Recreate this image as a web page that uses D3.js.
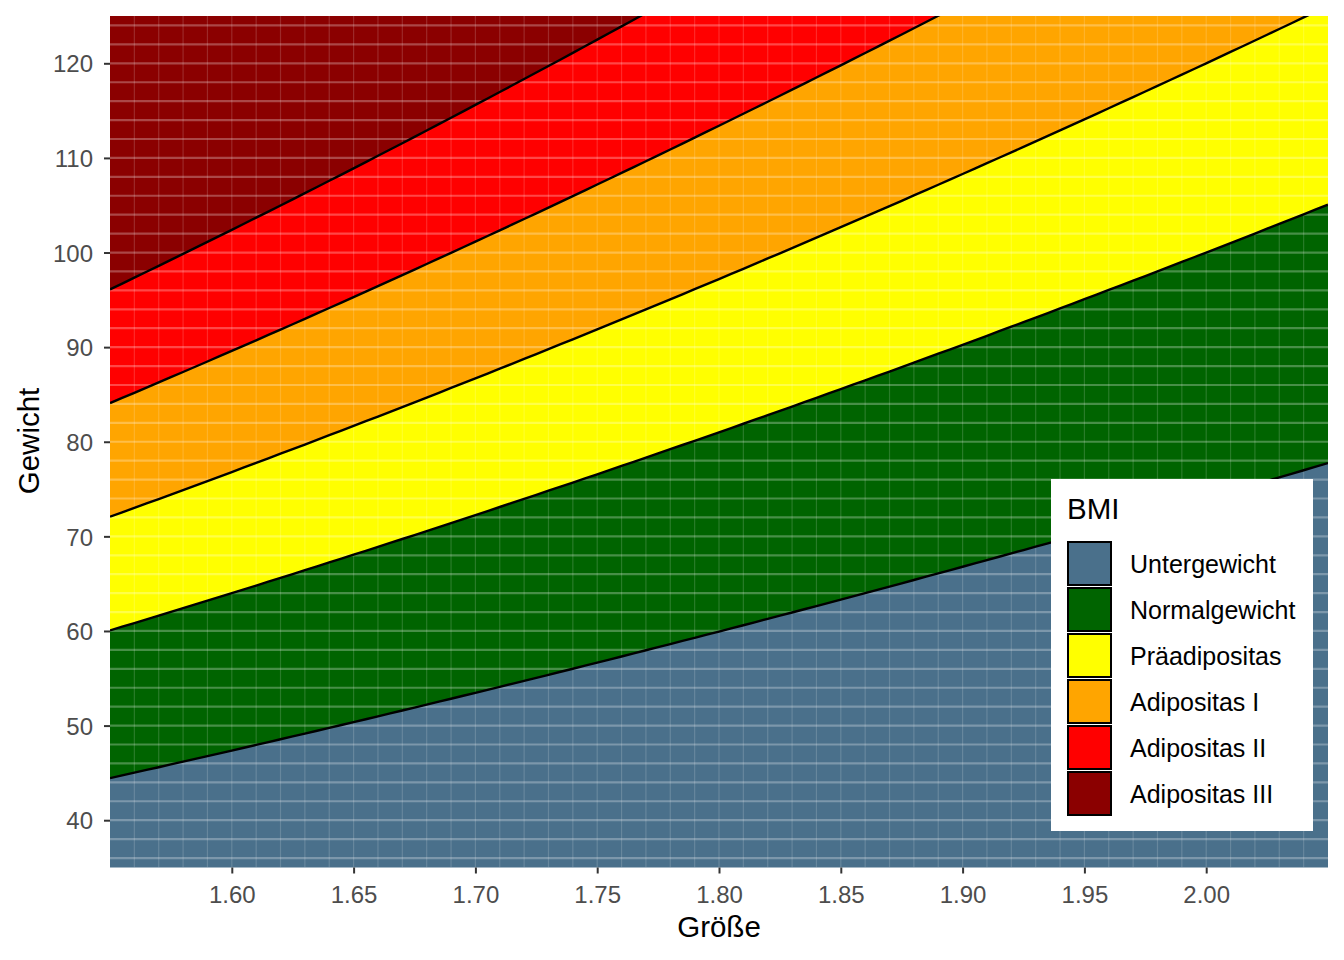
<!DOCTYPE html>
<html><head><meta charset="utf-8">
<script src="https://cdn.jsdelivr.net/npm/d3@7"></script>
<style>body{margin:0;background:#fff}svg{display:block}text{font-family:"Liberation Sans",Arial,sans-serif}</style>
</head><body><svg id="c" width="1344" height="960"></svg>
<script>
// Data
const categories = ["Untergewicht","Normalgewicht","Präadipositas","Adipositas I","Adipositas II","Adipositas III"];
const colors = ["#4A708B","#006400","#FFFF00","#FFA500","#FF0000","#8B0000"];
const thresholds = [18.5, 25, 30, 35, 40]; // BMI class boundaries
const heights = d3.range(0, 101).map(i => 1.55 + i * 0.005); // sample heights along x
const xTicks = [1.60,1.65,1.70,1.75,1.80,1.85,1.90,1.95,2.00];
const yTicks = [40,50,60,70,80,90,100,110,120];
const xDomain = [1.55, 2.05], yDomain = [35, 125];

const svg = d3.select("#c");
const L = 110, R = 1328, T = 16, B = 867.5;
const x = d3.scaleLinear().domain(xDomain).range([L, R]);
const y = d3.scaleLinear().domain(yDomain).range([B, T]);

svg.append("defs").append("clipPath").attr("id","clip").append("rect")
  .attr("x",L).attr("y",T).attr("width",R-L).attr("height",B-T);
const g = svg.append("g").attr("clip-path","url(#clip)");

const lower = i => h => i === 0 ? yDomain[0] - 10 : thresholds[i-1] * h * h;
const upper = i => h => i === categories.length - 1 ? yDomain[1] + 10 : thresholds[i] * h * h;
categories.forEach((c, i) => {
  const area = d3.area().x(h => x(h)).y0(h => y(lower(i)(h))).y1(h => y(upper(i)(h)));
  g.append("path").attr("d", area(heights)).attr("fill", colors[i]);
});

// grid overlay
d3.range(36, 125, 2).forEach(v => {
  g.append("line").attr("x1",L).attr("x2",R).attr("y1",y(v)).attr("y2",y(v))
   .attr("stroke","#fff").attr("stroke-opacity",0.28).attr("stroke-width",2.2);
});
d3.range(1, 50).map(i => 1.55 + i*0.01).forEach(v => {
  g.append("line").attr("y1",T).attr("y2",B).attr("x1",x(v)).attr("x2",x(v))
   .attr("stroke","#fff").attr("stroke-opacity",0.16).attr("stroke-width",1.2);
});

// boundary lines
thresholds.forEach(t => {
  const line = d3.line().x(h => x(h)).y(h => y(t*h*h));
  g.append("path").attr("d", line(heights)).attr("fill","none").attr("stroke","#000").attr("stroke-width",2.4);
});

// axes
const xa = svg.append("g").attr("transform",`translate(0,${B})`)
  .call(d3.axisBottom(x).tickValues(xTicks).tickFormat(d3.format(".2f")).tickSize(6).tickPadding(4));
const ya = svg.append("g").attr("transform",`translate(${L},0)`)
  .call(d3.axisLeft(y).tickValues(yTicks).tickSize(6).tickPadding(4));
[xa, ya].forEach(a => {
  a.select(".domain").remove();
  a.selectAll(".tick line").attr("stroke","#333").attr("stroke-width",2);
  a.selectAll(".tick text").attr("fill","#4D4D4D").style("font-size","24px");
});
xa.selectAll(".tick text").attr("y",35).attr("dy",null);
ya.selectAll(".tick text").attr("x",-17).attr("dy","0.36em");

svg.append("text").attr("x",(L+R)/2).attr("y",937).attr("text-anchor","middle")
  .style("font-size","29.5px").attr("fill","#000").text("Größe");
svg.append("text").attr("transform",`translate(39,441) rotate(-90)`).attr("text-anchor","middle")
  .style("font-size","29.5px").attr("fill","#000").text("Gewicht");

// legend
const lg = svg.append("g");
lg.append("rect").attr("x",1051).attr("y",479).attr("width",262).attr("height",352).attr("fill","#fff");
lg.append("text").attr("x",1067).attr("y",519).style("font-size","29.5px").attr("fill","#000").text("BMI");
categories.forEach((c, i) => {
  const ky = 541 + i*46;
  lg.append("rect").attr("x",1068).attr("y",ky+1).attr("width",43).attr("height",43)
    .attr("fill",colors[i]).attr("stroke","#000").attr("stroke-width",2);
  lg.append("text").attr("x",1130).attr("y",ky+22.5+9.5)
    .style("font-size","25px").attr("fill","#000").text(c);
});
</script></body></html>
